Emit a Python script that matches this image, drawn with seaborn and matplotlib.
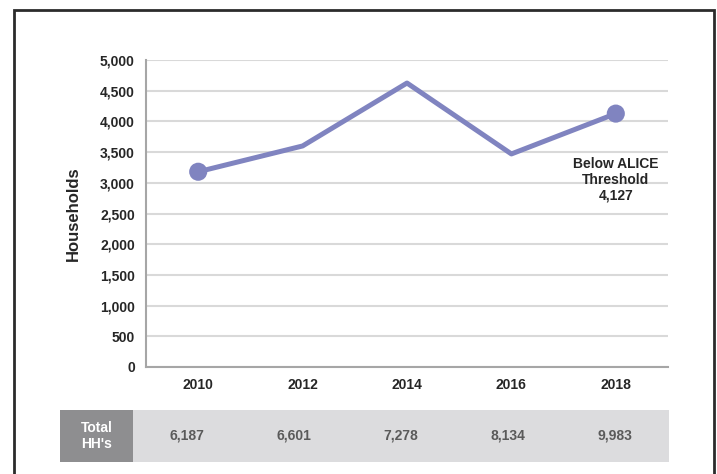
import matplotlib
matplotlib.use("Agg")
import matplotlib.pyplot as plt
import seaborn as sns
import pandas as pd
from matplotlib.patches import Rectangle

# Households below the ALICE threshold, by survey year
years = ["2010", "2012", "2014", "2016", "2018"]
below_alice = [3180, 3600, 4625, 3470, 4127]
total_hh = ["6,187", "6,601", "7,278", "8,134", "9,983"]
y_ticks = [0, 500, 1000, 1500, 2000, 2500, 3000, 3500, 4000, 4500, 5000]

sns.set_theme(style="white")
plt.rcParams["font.family"] = ["Liberation Sans", "DejaVu Sans"]

W, H = 717, 474
fig = plt.figure(figsize=(W / 100, H / 100), dpi=100)

line_color = "#8084C0"
spine_color = "#A6A6A6"
grid_color = "#D9D9D9"
text_color = "#262626"

def fx(px):
    return px / W

def fy(py):
    return 1 - py / H

ax = fig.add_axes([fx(146), fy(367), fx(668) - fx(146), fy(60) - fy(367)])

df = pd.DataFrame({"pos": range(len(years)), "value": below_alice})
sns.lineplot(data=df, x="pos", y="value", ax=ax, color=line_color,
             linewidth=3.6, solid_capstyle="round", solid_joinstyle="round",
             zorder=3)
ends = df.iloc[[0, -1]]
sns.scatterplot(data=ends, x="pos", y="value", ax=ax, color=line_color,
                s=170, edgecolor="none", zorder=4, legend=False)

ax.set_xlim(-0.5, 4.5)
ax.set_ylim(0, 5000)
ax.set_yticks(y_ticks)
ax.set_yticklabels([f"{v:,}" for v in y_ticks])
ax.set_xticks(range(len(years)))
ax.set_xticklabels(years)

ax.yaxis.grid(True, color=grid_color, linewidth=1.5)
ax.set_axisbelow(True)
for side in ["top", "right"]:
    ax.spines[side].set_visible(False)
for side in ["left", "bottom"]:
    ax.spines[side].set_color(spine_color)
    ax.spines[side].set_linewidth(1.5)

ax.tick_params(axis="both", which="both", direction="out", length=4,
               width=1.2, color=spine_color, labelsize=10, labelcolor=text_color)
ax.tick_params(axis="x", pad=4)
ax.tick_params(axis="y", pad=4)
for lbl in ax.get_xticklabels() + ax.get_yticklabels():
    lbl.set_fontweight("bold")

ax.set_xlabel("")
ax.set_ylabel("Households", fontsize=12, fontweight="bold", color=text_color,
              labelpad=14)

# End-point annotation for the latest year
ax.text(4, below_alice[-1] - 700, f"Below ALICE\nThreshold\n{below_alice[-1]:,}",
        ha="center", va="top", fontsize=10, fontweight="bold",
        color=text_color, linespacing=1.2)

# Total households row beneath the chart
row_top, row_bot = 410, 462
fig.patches.append(Rectangle((fx(60), fy(row_bot)), fx(133) - fx(60),
                             fy(row_top) - fy(row_bot), transform=fig.transFigure,
                             facecolor="#8E8E90", edgecolor="none"))
fig.patches.append(Rectangle((fx(133), fy(row_bot)), fx(669) - fx(133),
                             fy(row_top) - fy(row_bot), transform=fig.transFigure,
                             facecolor="#DCDCDE", edgecolor="none"))
row_mid = fy((row_top + row_bot) / 2)
fig.text(fx(96.5), row_mid, "Total\nHH's", ha="center", va="center",
         color="white", fontsize=10, fontweight="bold", linespacing=1.1)
col_w = (669 - 133) / len(total_hh)
for i, val in enumerate(total_hh):
    fig.text(fx(133 + col_w * (i + 0.5)), row_mid, val, ha="center",
             va="center", color="#5A5A5A", fontsize=10, fontweight="bold")

# Outer frame
fig.patches.append(Rectangle((fx(14), fy(490)), fx(714) - fx(14),
                             fy(9.5) - fy(490), transform=fig.transFigure,
                             facecolor="none", edgecolor="#2B2B2B",
                             linewidth=2, clip_on=False))

fig.savefig("out.png", dpi=100)
